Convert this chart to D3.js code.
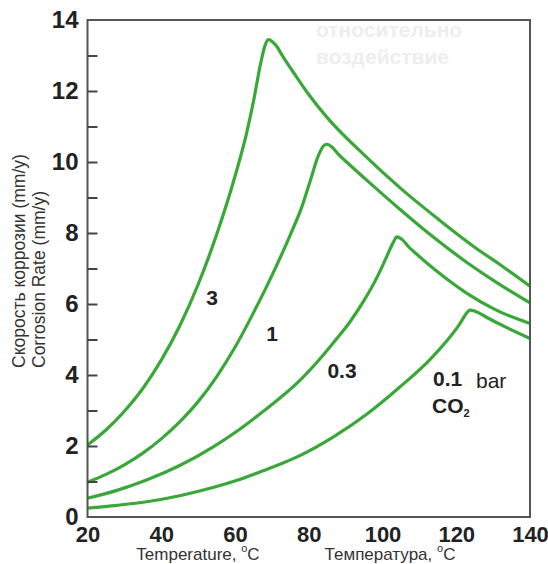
<!DOCTYPE html>
<html>
<head>
<meta charset="utf-8">
<script src="https://cdn.jsdelivr.net/npm/d3@7"></script>
<style>
  html, body { margin: 0; padding: 0; background: #fff; }
  svg { display: block; }
  text { font-family: "Liberation Sans", Arial, sans-serif; }
</style>
</head>
<body>
<svg id="chart" width="548" height="564"></svg>
<script>
// ---- data ----
const xTicks = [20, 40, 60, 80, 100, 120, 140];
const yTicks = [0, 2, 4, 6, 8, 10, 12, 14];
const yMinorTicks = [1, 2, 3, 4, 5, 6, 7, 8, 9, 10, 11, 12, 13];

const seriesNames = ["3", "1", "0.3", "0.1"];

const temp3 = [20, 25, 30, 35, 40, 45, 50, 55, 60, 63, 65, 67, 68.2, 69, 71, 73, 76, 80, 85, 95, 105, 115, 125, 132, 140];
const rate3 = [2.03, 2.45, 2.98, 3.62, 4.42, 5.38, 6.55, 7.95, 9.6, 10.75, 11.7, 12.8, 13.3, 13.45, 13.3, 12.97, 12.5, 11.9, 11.25, 10.2, 9.25, 8.4, 7.6, 7.1, 6.5];

const temp1 = [20, 25, 30, 35, 40, 45, 50, 55, 60, 65, 70, 75, 78, 80.5, 82.5, 84, 84.9, 86.3, 88, 91, 97, 104.7, 113, 122.9, 131, 140];
const rate1 = [0.98, 1.2, 1.47, 1.8, 2.2, 2.68, 3.25, 3.95, 4.78, 5.75, 6.8, 7.95, 8.7, 9.5, 10.15, 10.45, 10.5, 10.42, 10.22, 9.93, 9.37, 8.67, 7.95, 7.17, 6.6, 6.03];

const temp03 = [20, 28, 36, 45, 54, 61, 67.6, 73, 77.6, 83, 87, 91.2, 95, 98.5, 101.2, 103, 103.9, 105.5, 107, 109.3, 115, 122.9, 131, 140];
const rate03 = [0.53, 0.75, 1.04, 1.45, 1.97, 2.45, 2.97, 3.42, 3.85, 4.45, 4.95, 5.5, 6.1, 6.75, 7.35, 7.75, 7.89, 7.8, 7.62, 7.4, 6.9, 6.3, 5.82, 5.45];

const temp01 = [20, 28, 36, 45, 54, 61, 67.6, 73, 77.6, 86.6, 95.8, 104.7, 113, 117.5, 121, 122.5, 123.7, 125.3, 128.3, 134, 140];
const rate01 = [0.25, 0.33, 0.43, 0.6, 0.83, 1.05, 1.3, 1.52, 1.73, 2.25, 2.9, 3.66, 4.45, 4.97, 5.45, 5.7, 5.83, 5.79, 5.62, 5.32, 5.03];

const seriesTemps = [temp3, temp1, temp03, temp01];
const seriesRates = [rate3, rate1, rate03, rate01];

// ---- layout ----
const svg = d3.select("#chart");
const mLeft = 87.5, mRight = 530, mTop = 20, mBottom = 517;

const x = d3.scaleLinear().domain([20, 140]).range([mLeft, mRight]);
const y = d3.scaleLinear().domain([0, 14]).range([mBottom, mTop]);

// faint bleed-through text (background artefact)
const ghost = svg.append("g").attr("fill", "#eeeeee").attr("font-weight", "bold").attr("font-size", 21);
ghost.append("text").attr("x", 316).attr("y", 37).text("относительно");
ghost.append("text").attr("x", 316).attr("y", 64).text("воздействие");

// curves
const line = d3.line()
  .x(d => x(d[0]))
  .y(d => y(d[1]))
  .curve(d3.curveMonotoneX);

seriesTemps.forEach((temps, i) => {
  const pts = temps.map((t, j) => [t, seriesRates[i][j]]);
  svg.append("path")
    .datum(pts)
    .attr("fill", "none")
    .attr("stroke", "#39a839")
    .attr("stroke-width", 3.2)
    .attr("stroke-linejoin", "round")
    .attr("d", line);
});

// frame
svg.append("rect")
  .attr("x", mLeft).attr("y", mTop)
  .attr("width", mRight - mLeft).attr("height", mBottom - mTop)
  .attr("fill", "none").attr("stroke", "#555").attr("stroke-width", 2);

// y axis: inward minor ticks at every integer
const yMinor = svg.append("g").attr("transform", `translate(${mLeft},0)`)
  .call(d3.axisLeft(y).tickValues(yMinorTicks).tickSizeInner(-10).tickSizeOuter(0).tickFormat(""));
yMinor.select(".domain").remove();
yMinor.selectAll("line").attr("stroke", "#444").attr("stroke-width", 2);

// y axis labels
const yAx = svg.append("g").attr("transform", `translate(${mLeft},0)`)
  .call(d3.axisLeft(y).tickValues(yTicks).tickSize(0).tickPadding(9).tickFormat(d3.format("d")));
yAx.select(".domain").remove();
yAx.selectAll("text")
  .attr("font-family", "Liberation Sans, Arial, sans-serif")
  .attr("font-size", 24).attr("font-weight", "bold").attr("fill", "#222");

// x axis labels
const xAx = svg.append("g").attr("transform", `translate(0,${mBottom})`)
  .call(d3.axisBottom(x).tickValues(xTicks).tickSize(0).tickPadding(9).tickFormat(d3.format("d")));
xAx.select(".domain").remove();
xAx.selectAll("text")
  .attr("font-family", "Liberation Sans, Arial, sans-serif")
  .attr("font-size", 22).attr("font-weight", "bold").attr("fill", "#222");

// axis titles
const ytl = svg.append("g").attr("fill", "#333").attr("font-size", 17.5);
ytl.append("text").attr("transform", "translate(25,368) rotate(-90)").text("Скорость коррозии (mm/y)");
ytl.append("text").attr("transform", "translate(45,368) rotate(-90)").text("Corrosion Rate (mm/y)");

const xtl = svg.append("g").attr("fill", "#333").attr("font-size", 17).attr("text-anchor", "middle");
const t1 = xtl.append("text").attr("x", 198).attr("y", 560);
t1.append("tspan").text("Temperature, ");
t1.append("tspan").attr("font-size", 11).attr("dy", -8).text("o");
t1.append("tspan").attr("dy", 8).text("C");
const t2 = xtl.append("text").attr("x", 390).attr("y", 560);
t2.append("tspan").text("Температура, ");
t2.append("tspan").attr("font-size", 11).attr("dy", -8).text("o");
t2.append("tspan").attr("dy", 8).text("C");

// curve labels
const lab = svg.append("g").attr("fill", "#222").attr("font-size", 21);
lab.append("text").attr("x", 212).attr("y", 305).attr("text-anchor", "middle").attr("font-weight", "bold").text(seriesNames[0]);
lab.append("text").attr("x", 272).attr("y", 341).attr("text-anchor", "middle").attr("font-weight", "bold").text(seriesNames[1]);
lab.append("text").attr("x", 342).attr("y", 378).attr("text-anchor", "middle").attr("font-weight", "bold").text(seriesNames[2]);
lab.append("text").attr("x", 433).attr("y", 386).attr("font-weight", "bold").text(seriesNames[3]);
lab.append("text").attr("x", 476).attr("y", 388).text("bar");
const co2 = lab.append("text").attr("x", 432).attr("y", 413).attr("font-weight", "bold");
co2.append("tspan").text("CO");
co2.append("tspan").attr("font-size", 11).attr("dy", 4).text("2");
</script>
</body>
</html>
